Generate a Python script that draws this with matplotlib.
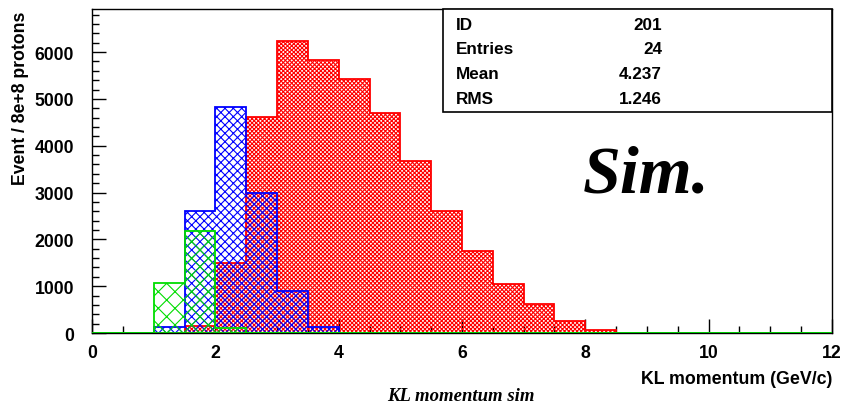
import numpy as np
import matplotlib
matplotlib.use("Agg")
import matplotlib.pyplot as plt
from matplotlib.ticker import MultipleLocator

# bin edges (GeV/c), 0.5 wide
edges = np.arange(0.0, 12.5, 0.5)

red_vals = [0, 0, 0, 150, 1500, 4610, 6230, 5840, 5420, 4700, 3670, 2600,
            1750, 1050, 610, 260, 70, 0, 0, 0, 0, 0, 0, 0]
blue_vals = [0, 0, 120, 2600, 4830, 2990, 900, 130, 0, 0, 0, 0,
             0, 0, 0, 0, 0, 0, 0, 0, 0, 0, 0, 0]
green_vals = [0, 0, 1060, 2170, 100, 0, 0, 0, 0, 0, 0, 0,
              0, 0, 0, 0, 0, 0, 0, 0, 0, 0, 0, 0]

stat_names = ["ID", "Entries", "Mean", "RMS"]
stat_values = ["201", "24", "4.237", "1.246"]

plt.rcParams['font.family'] = ['Liberation Sans', 'DejaVu Sans']
plt.rcParams['hatch.linewidth'] = 0.8

fig = plt.figure(figsize=(8.45, 4.06), dpi=100)
ax = fig.add_axes([0.1089, 0.1773, 0.8757, 0.7981])

def draw_hist(vals, color, hatch, z):
    vals = np.array(vals, dtype=float)
    ax.bar(edges[:-1], vals, width=0.5, align='edge', facecolor='none',
           edgecolor=color, hatch=hatch, linewidth=0, zorder=z)
    ax.stairs(vals, edges, color=color, linewidth=1.3, zorder=z + 0.5)

draw_hist(red_vals, '#ff0000', 'xxxxxxxx', 2)
draw_hist(blue_vals, '#0000ff', 'xxxx', 3)
draw_hist(green_vals, '#00dd00', 'xx', 4)
ax.axhline(0, color='#00cc00', linewidth=2, zorder=5)

ax.set_xlim(0, 12)
ax.set_ylim(0, 6920)
ax.xaxis.set_major_locator(MultipleLocator(2))
ax.xaxis.set_minor_locator(MultipleLocator(0.5))
ax.yaxis.set_major_locator(MultipleLocator(1000))
ax.yaxis.set_minor_locator(MultipleLocator(200))
ax.tick_params(which='both', direction='in', top=False, right=False,
               labelsize=12.7, width=1)
ax.tick_params(which='major', length=10)
ax.tick_params(which='minor', length=5)
ax.tick_params(axis='x', pad=8)
ax.tick_params(axis='y', pad=13)
for lab in ax.get_xticklabels() + ax.get_yticklabels():
    lab.set_fontweight('bold')
for sp in ax.spines.values():
    sp.set_linewidth(1)

ax.set_ylabel("Event / 8e+8 protons", fontsize=12.7, fontweight='bold')
ax.yaxis.set_label_coords(-0.085, 0.994)
ax.yaxis.label.set_horizontalalignment('right')
ax.set_xlabel("KL momentum (GeV/c)", fontsize=12.8, fontweight='bold')
ax.xaxis.set_label_coords(1.0, -0.115)
ax.xaxis.label.set_horizontalalignment('right')

fig.text(461 / 845, 1 - 401 / 406, "KL momentum sim", fontsize=13.5,
         style='italic', fontweight='bold', family=['Liberation Serif'],
         ha='center', va='baseline')

ax.text(0.749, 0.438, "Sim.", transform=ax.transAxes, fontsize=49,
        style='italic', fontweight='bold', family=['Liberation Serif'],
        ha='center', va='baseline', zorder=10)

# stats box
bx0, bx1 = 443 / 845, 832 / 845
by0, by1 = 1 - 113 / 406, 1 - 10 / 406
box = plt.Rectangle((bx0, by0), bx1 - bx0, by1 - by0, transform=fig.transFigure,
                    facecolor='white', edgecolor='black', linewidth=1.2, zorder=20)
fig.patches.append(box)
for i, (n, v) in enumerate(zip(stat_names, stat_values)):
    yy = 1 - (25 + i * 24.8) / 406
    fig.text(456 / 845, yy, n, fontsize=12.3, fontweight='bold', va='center', zorder=21)
    fig.text(662 / 845, yy, v, fontsize=12.3, fontweight='bold', va='center',
             ha='right', zorder=21)

fig.savefig("out.png", dpi=100)
